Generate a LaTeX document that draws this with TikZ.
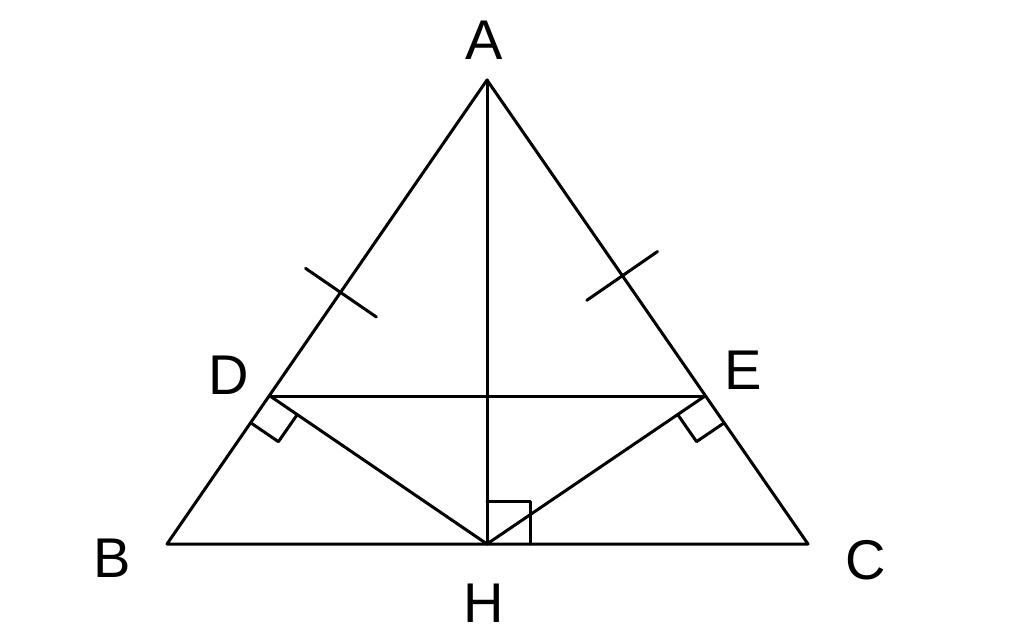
\documentclass[tikz,border=0pt]{standalone}
\usepackage{fontspec}
\setmainfont{Liberation Sans}
\usetikzlibrary{calc}
\begin{document}
\begin{tikzpicture}[x=0.5pt,y=-0.5pt,
  seg/.style={line width=1.5pt,line cap=round,line join=round},
  lbl/.style={font=\fontsize{28}{30}\selectfont,inner sep=0pt}]
\useasboundingbox (0,0) rectangle (1024,643);
\coordinate (A) at (487,80);
\coordinate (B) at (167,544);
\coordinate (C) at (808,544);
\coordinate (H) at (487,544);
\coordinate (D) at (270,396);
\coordinate (E) at (705,396);
% triangle and segments
\draw[seg] (A) -- (B) -- (C) -- cycle;
\draw[seg] (A) -- (H);
\draw[seg] (D) -- (E);
\draw[seg] (D) -- (H) -- (E);
% right angle marks
\draw[seg] ($(D)!16.5pt!(B)$) -- ($($(D)!16.5pt!(B)$)+($(D)!16.5pt!(H)$)-(D)$) -- ($(D)!16.5pt!(H)$);
\draw[seg] ($(E)!16.5pt!(C)$) -- ($($(E)!16.5pt!(C)$)+($(E)!16.5pt!(H)$)-(E)$) -- ($(E)!16.5pt!(H)$);
\draw[seg] ($(H)!21.5pt!(A)$) -- ($($(H)!21.5pt!(A)$)+($(H)!21.5pt!(C)$)-(H)$) -- ($(H)!21.5pt!(C)$);
% tick marks
\coordinate (T1) at ($(A)!0.673!(D)$);
\coordinate (T2) at ($(A)!0.62!(E)$);
\draw[seg] ($(T1)!21.5pt!90:(A)$) -- ($(T1)!21.5pt!-90:(A)$);
\draw[seg] ($(T2)!21.5pt!90:(A)$) -- ($(T2)!21.5pt!-90:(A)$);
% labels
\node[lbl] (lA) at (484,40) {A};
\node[lbl] (lB) at (112,558) {B};
\node[lbl] (lC) at (866,560) {C};
\node[lbl] (lD) at (229,375) {D};
\node[lbl] (lE) at (743,370) {E};
\node[lbl] (lH) at (484,603) {H};
\end{tikzpicture}
\end{document}
